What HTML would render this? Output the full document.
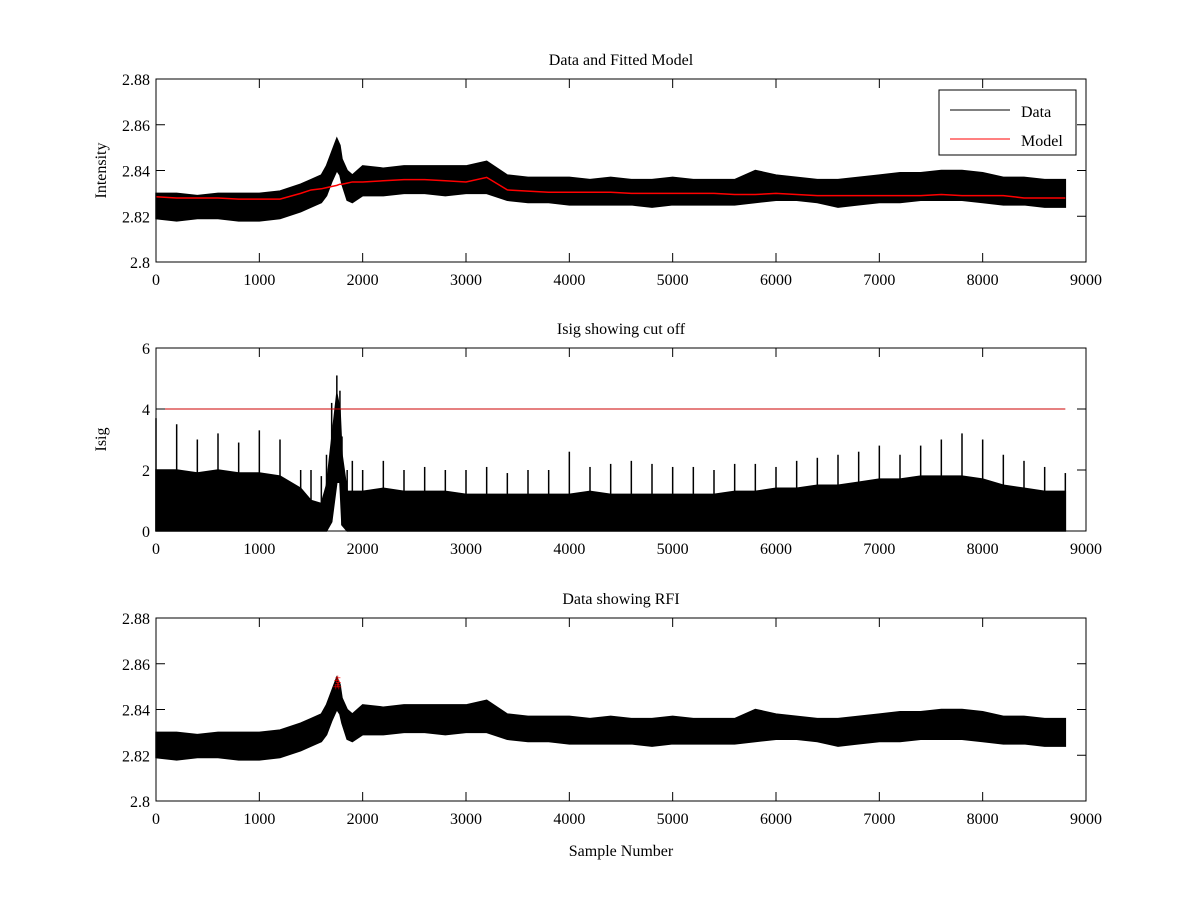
<!DOCTYPE html>
<html><head><meta charset="utf-8"><style>
body{margin:0;background:#fff}
svg text{font-family:"Liberation Serif",serif;font-size:16px;fill:#000}
</style></head><body>
<svg id="fig" width="1200" height="900" xmlns="http://www.w3.org/2000/svg"></svg>
<script>
const sampleX = [0,200,400,600,800,1000,1200,1400,1500,1600,1650,1700,1750,1780,1800,1850,1900,2000,2200,2400,2600,2800,3000,3200,3400,3600,3800,4000,4200,4400,4600,4800,5000,5200,5400,5600,5800,6000,6200,6400,6600,6800,7000,7200,7400,7600,7800,8000,8200,8400,8600,8800];
const dataLo = [2.819,2.818,2.819,2.819,2.818,2.818,2.819,2.822,2.824,2.826,2.829,2.835,2.840,2.838,2.834,2.827,2.826,2.829,2.829,2.830,2.830,2.829,2.830,2.830,2.827,2.826,2.826,2.825,2.825,2.825,2.825,2.824,2.825,2.825,2.825,2.825,2.826,2.827,2.827,2.826,2.824,2.825,2.826,2.826,2.827,2.827,2.827,2.826,2.825,2.825,2.824,2.824];
const dataHi = [2.830,2.830,2.829,2.830,2.830,2.830,2.831,2.834,2.836,2.838,2.842,2.848,2.854,2.851,2.845,2.840,2.838,2.842,2.841,2.842,2.842,2.842,2.842,2.844,2.838,2.837,2.837,2.837,2.836,2.837,2.836,2.836,2.837,2.836,2.836,2.836,2.840,2.838,2.837,2.836,2.836,2.837,2.838,2.839,2.839,2.840,2.840,2.839,2.837,2.837,2.836,2.836];
const model = [2.8285,2.828,2.828,2.828,2.8275,2.8275,2.8275,2.830,2.8315,2.832,2.8325,2.833,2.8335,2.834,2.834,2.8345,2.835,2.835,2.8355,2.836,2.836,2.8355,2.835,2.837,2.8315,2.831,2.8305,2.8305,2.8305,2.8305,2.830,2.830,2.830,2.830,2.830,2.8295,2.8295,2.830,2.8295,2.829,2.829,2.829,2.829,2.829,2.829,2.8295,2.829,2.829,2.829,2.828,2.828,2.828];
const isigLo = [0,0,0,0,0,0,0,0,0,0,0,0.3,1.6,1.6,0.2,0,0,0,0,0,0,0,0,0,0,0,0,0,0,0,0,0,0,0,0,0,0,0,0,0,0,0,0,0,0,0,0,0,0,0,0,0];
const isigDense = [2.0,2.0,1.9,2.0,1.9,1.9,1.8,1.4,1.0,0.9,1.5,3.0,4.5,4.0,2.5,1.3,1.3,1.3,1.4,1.3,1.3,1.3,1.2,1.2,1.2,1.2,1.2,1.2,1.3,1.2,1.2,1.2,1.2,1.2,1.2,1.3,1.3,1.4,1.4,1.5,1.5,1.6,1.7,1.7,1.8,1.8,1.8,1.7,1.5,1.4,1.3,1.3];
const isigMax = [3.7,3.5,3.0,3.2,2.9,3.3,3.0,2.0,2.0,1.8,2.5,4.2,5.1,4.6,3.1,2.0,2.3,2.0,2.3,2.0,2.1,2.0,2.0,2.1,1.9,2.0,2.0,2.6,2.1,2.2,2.3,2.2,2.1,2.1,2.0,2.2,2.2,2.1,2.3,2.4,2.5,2.6,2.8,2.5,2.8,3.0,3.2,3.0,2.5,2.3,2.1,1.9];
const cutoff = 4;
const rfiX = [1740,1750,1755,1760,1765,1770];
const rfiY = [2.850,2.853,2.851,2.854,2.852,2.850];
const xTicks = [0,1000,2000,3000,4000,5000,6000,7000,8000,9000];
const yTicksI = [2.8,2.82,2.84,2.86,2.88];
const yTicksS = [0,2,4,6];

const svg = document.getElementById('fig');
const NS = 'http://www.w3.org/2000/svg';
function mk(tag, attrs, parent){const e=document.createElementNS(NS,tag);for(const k in attrs)e.setAttribute(k,attrs[k]);(parent||svg).appendChild(e);return e;}
const L=156,R=1086;
function xs(v){return L+(v/9000)*(R-L);}

function axes(name, top, bot, ymin, ymax, yt, ylab, title, xlab){
  const g=mk('g',{});
  
  
  const ys=v=>bot-(v-ymin)/(ymax-ymin)*(bot-top);
  return {g,ys,top,bot,yt,ylab,title,xlab};
}
function frame(a){
  const {g,ys,top,bot}=a;
  mk('rect',{x:L,y:top,width:R-L,height:bot-top,fill:'none',stroke:'#000','stroke-width':1},g);
  xTicks.forEach(t=>{const x=xs(t);
    mk('line',{x1:x,y1:bot,x2:x,y2:bot-9,stroke:'#000'},g);
    mk('line',{x1:x,y1:top,x2:x,y2:top+9,stroke:'#000'},g);
    const tx=mk('text',{x:x,y:bot+23,'text-anchor':'middle'},g);tx.textContent=t;
    
    });
  a.yt.forEach(t=>{const y=ys(t);
    mk('line',{x1:L,y1:y,x2:L+9,y2:y,stroke:'#000'},g);
    mk('line',{x1:R,y1:y,x2:R-9,y2:y,stroke:'#000'},g);
    const tx=mk('text',{x:L-6,y:y+6,'text-anchor':'end'},g);tx.textContent=t;
    
    });
  const tt=mk('text',{x:(L+R)/2,y:top-14,'text-anchor':'middle'},g);tt.textContent=a.title;
  
  
  const yl=mk('text',{x:0,y:0,'text-anchor':'middle',transform:`translate(${L-50},${(top+bot)/2}) rotate(-90)`},g);yl.textContent=a.ylab;
  
  
  if(a.xlab){const xl=mk('text',{x:(L+R)/2,y:bot+55,'text-anchor':'middle'},g);xl.textContent=a.xlab;
    
    }
}
function band(a,lo,hi,name){
  let d='M'+sampleX.map((s,i)=>xs(s)+','+a.ys(hi[i])).join('L');
  for(let i=sampleX.length-1;i>=0;i--)d+='L'+xs(sampleX[i])+','+a.ys(lo[i]);
  const p=mk('path',{d:d+'Z',fill:'#000',stroke:'#000','stroke-width':1.5},a.g);
  
  
}
function line(a,vals,color,name,w){
  const p=mk('polyline',{points:sampleX.map((s,i)=>xs(s)+','+a.ys(vals[i])).join(' '),fill:'none',stroke:color,'stroke-width':w||1.3},a.g);
  
  
}

// Plot 1
const a1=axes('data-fitted-plot',79,262,2.8,2.88,yTicksI,'Intensity','Data and Fitted Model');
band(a1,dataLo,dataHi,'data-series');
line(a1,model,'#f00','model-series',1.5);
frame(a1);
const lg=mk('g',{},a1.g);


mk('rect',{x:939,y:90,width:137,height:65,fill:'#fff',stroke:'#000'},lg);
mk('line',{x1:950,y1:110,x2:1010,y2:110,stroke:'#000'},lg);
mk('line',{x1:950,y1:139,x2:1010,y2:139,stroke:'#f00'},lg);
let t=mk('text',{x:1021,y:117},lg);t.textContent='Data';


t=mk('text',{x:1021,y:146},lg);t.textContent='Model';



// Plot 2
const a2=axes('isig-plot',348,531,0,6,yTicksS,'Isig','Isig showing cut off');
band(a2,isigLo,isigDense,'isig-series');
sampleX.forEach((s,i)=>{
  const l=mk('line',{x1:xs(s),y1:a2.ys(isigLo[i]),x2:xs(s),y2:a2.ys(isigMax[i]),stroke:'#000','stroke-width':1.5},a2.g);
  
  
});
const cl=mk('line',{x1:xs(0),y1:a2.ys(cutoff),x2:xs(8800),y2:a2.ys(cutoff),stroke:'#c00','stroke-width':1},a2.g);


frame(a2);

// Plot 3
const a3=axes('rfi-plot',618,801,2.8,2.88,yTicksI,'','Data showing RFI','Sample Number');
band(a3,dataLo,dataHi,'data-series-rfi');
rfiX.forEach((x,i)=>{
  const m=mk('text',{x:xs(x),y:a3.ys(rfiY[i])+4,'text-anchor':'middle',style:'fill:#f00;font-size:11px'},a3.g);
  m.textContent='+';
  
  
});
frame(a3);
</script>
</body></html>
